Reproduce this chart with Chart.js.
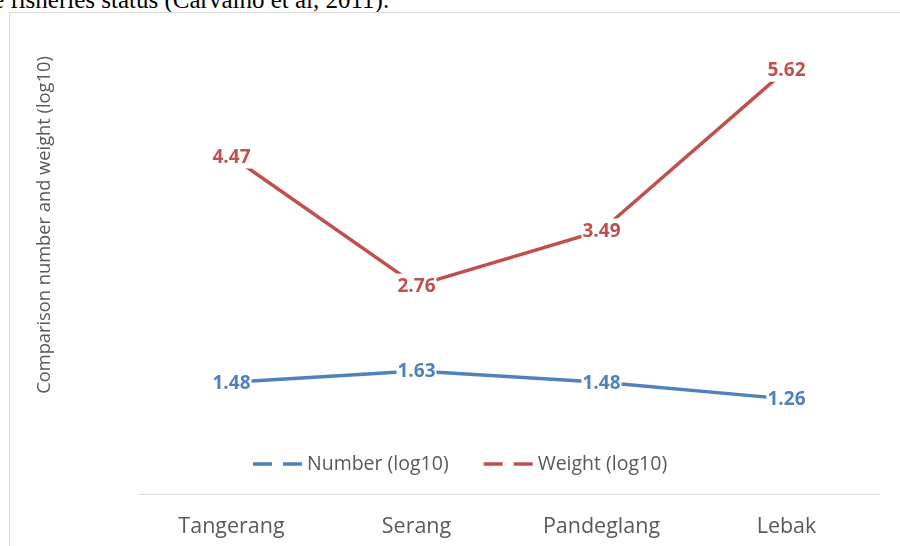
<!DOCTYPE html>
<html>
<head>
<meta charset="utf-8">
<script src="https://cdn.jsdelivr.net/npm/chart.js@4.4.1/dist/chart.umd.min.js"></script>
<style>
  html, body { margin: 0; padding: 0; background: #fff; overflow: hidden; }
  #page { position: relative; width: 900px; height: 546px; }
  #caption {
    position: absolute; left: -7px; top: -14px;
    font-family: "Liberation Serif", "DejaVu Serif", serif; font-size: 25px;
    color: #000; white-space: nowrap;
  }
  #frame {
    position: absolute; left: 9px; top: 12px; width: 1000px; height: 1000px;
    border: 1px solid #d9d9d9; box-sizing: border-box;
  }
  #wrap { position: absolute; left: 0; top: 0; width: 900px; height: 546px; }
</style>
</head>
<body>
<div id="page">
  <div id="caption">e fisheries status (Carvalho et al, 2011).</div>
  <div id="frame"></div>
  <div id="wrap"><canvas id="lineChart" width="900" height="546"></canvas></div>
</div>
<script>
const regions = ["Tangerang", "Serang", "Pandeglang", "Lebak"];
const numberLog = [1.48, 1.63, 1.48, 1.26];
const weightLog = [4.47, 2.76, 3.49, 5.62];
const yTitle = "Comparison number and weight (log10)";

const grey = "#595959";
const font = '"Open Sans", "Noto Sans", sans-serif';

// value labels with white boxes, centred on each point
const valueLabels = {
  id: "valueLabels",
  afterDatasetsDraw(chart) {
    const ctx = chart.ctx;
    ctx.save();
    ctx.font = "bold 19px " + font;
    ctx.textAlign = "center";
    ctx.textBaseline = "middle";
    chart.data.datasets.forEach((ds, i) => {
      chart.getDatasetMeta(i).data.forEach((pt, j) => {
        const txt = ds.data[j].toFixed(2);
        const w = ctx.measureText(txt).width + 2;
        ctx.fillStyle = "#fff";
        ctx.fillRect(pt.x - w / 2, pt.y - 12, w, 24);
        ctx.fillStyle = ds.borderColor;
        ctx.fillText(txt, pt.x, pt.y + 1);
      });
    });
    ctx.restore();
  }
};

// legend inside the plot + rotated y title
const extras = {
  id: "extras",
  afterDraw(chart) {
    const ctx = chart.ctx;
    const area = chart.chartArea;
    ctx.save();
    ctx.font = "19.5px " + font;
    ctx.textBaseline = "middle";
    let x = area.left + 114;
    const y = 464;
    chart.data.datasets.forEach((ds) => {
      ctx.strokeStyle = ds.borderColor;
      ctx.lineWidth = 3.5;
      ctx.setLineDash([19, 11]);
      ctx.beginPath();
      ctx.moveTo(x, y);
      ctx.lineTo(x + 54, y);
      ctx.stroke();
      ctx.setLineDash([]);
      ctx.fillStyle = grey;
      ctx.textAlign = "left";
      ctx.fillText(ds.label, x + 54, y);
      x += 54 + ctx.measureText(ds.label).width + 35;
    });

    ctx.translate(45, 225);
    ctx.rotate(-Math.PI / 2);
    ctx.font = "18.3px " + font;
    ctx.textAlign = "center";
    ctx.fillStyle = grey;
    ctx.fillText(yTitle, 0, 0);
    ctx.restore();
  }
};

const ctx = document.getElementById("lineChart").getContext("2d");
const lineChart = new Chart(ctx, {
  type: "line",
  data: {
    labels: regions,
    datasets: [
      {
        label: "Number (log10)",
        data: numberLog,
        borderColor: "#4f81bd",
        backgroundColor: "#4f81bd",
        borderWidth: 3.5,
        pointRadius: 0,
        tension: 0,
      },
      {
        label: "Weight (log10)",
        data: weightLog,
        borderColor: "#c0504d",
        backgroundColor: "#c0504d",
        borderWidth: 3.5,
        pointRadius: 0,
        tension: 0,
      },
    ],
  },
  options: {
    responsive: false,
    animation: false,
    layout: { padding: { left: 139, right: 21, top: 41, bottom: 0 } },
    plugins: { legend: { display: false }, tooltip: { enabled: false } },
    scales: {
      x: {
        offset: true,
        grid: { display: false, drawTicks: false },
        border: { display: true, color: "#d9d9d9", width: 1 },
        ticks: { color: grey, font: { family: font, size: 21.5 }, padding: 20 },
        afterFit(scale) { scale.height = 52; },
      },
      y: { display: false, min: 0, max: 6 },
    },
  },
  plugins: [valueLabels, extras],
});
</script>
</body>
</html>
